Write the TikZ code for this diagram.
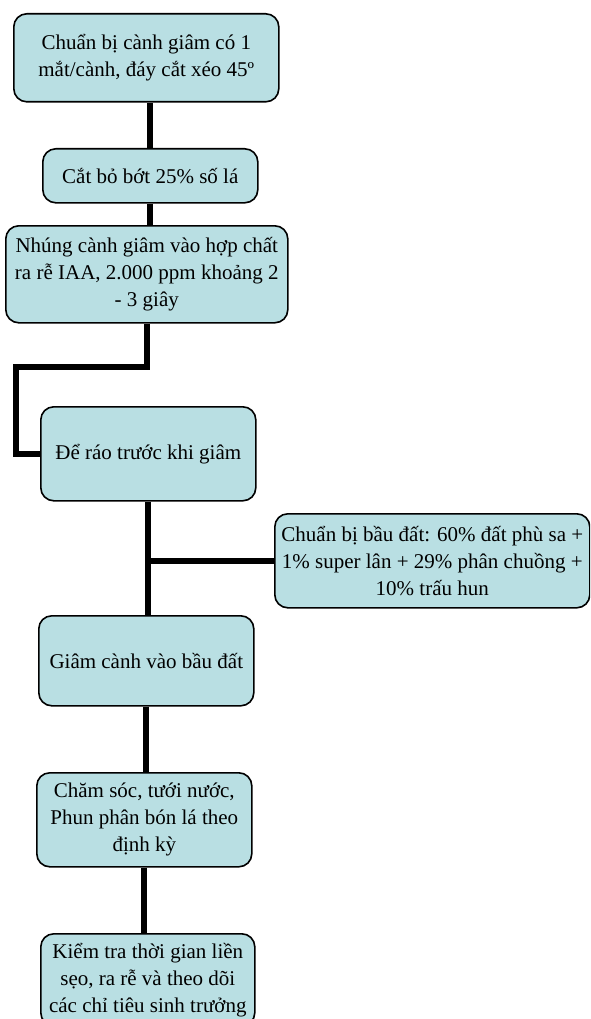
\documentclass[tikz,border=0pt]{standalone}
\usepackage{fontspec}
\setmainfont{Liberation Serif}
\definecolor{boxfill}{RGB}{185,223,227}
\tikzset{
  stepbox/.style={draw=black, line width=1.6pt, fill=boxfill, rounded corners=13pt,
    inner sep=0pt, align=center, anchor=north west,
    font=\fontsize{21}{27}\selectfont},
  link/.style={line width=6pt, draw=black}
}
\begin{document}
\begin{tikzpicture}[x=1pt, y=1pt]
\clip (0,0) rectangle (590,-1019);
\fill[white] (0,0) rectangle (590,-1019);
% connectors drawn first (behind boxes) using named coordinates after nodes
\node[stepbox, minimum width=265pt, minimum height=88pt] (b1) at (13,-13)
  {Chuẩn bị cành giâm có 1\\mắt/cành, đáy cắt xéo 45º};
\node[stepbox, minimum width=215pt, minimum height=54pt] (b2) at (42,-148)
  {Cắt bỏ bớt 25\% số lá};
\node[stepbox, minimum width=282pt, minimum height=97pt] (b3) at (5,-225)
  {Nhúng cành giâm vào hợp chất\\ra rễ IAA, 2.000 ppm khoảng 2\\- 3 giây};
\node[stepbox, minimum width=215pt, minimum height=94pt] (b4) at (40,-406)
  {Để ráo trước khi giâm};
\node[stepbox, minimum width=315pt, minimum height=94pt] (b6) at (274,-513)
  {Chuẩn bị bầu đất: 60\% đất phù sa +\\1\% super lân + 29\% phân chuồng +\\10\% trấu hun};
\node[stepbox, minimum width=215pt, minimum height=90pt] (b5) at (38,-615)
  {Giâm cành vào bầu đất};
\node[stepbox, minimum width=215pt, minimum height=94pt] (b7) at (36,-772)
  {Chăm sóc, tưới nước,\\Phun phân bón lá theo\\định kỳ};
\node[stepbox, minimum width=214pt, minimum height=92pt] (b8) at (40,-933)
  {Kiểm tra thời gian liền\\sẹo, ra rễ và theo dõi\\các chỉ tiêu sinh trưởng};
% connectors
\draw[link] (b2.north) -- (b2.north |- b1.south);
\draw[link] (b2.south) -- (b2.south |- b3.north);
\coordinate (turn) at ([xshift=-24pt]b4.west);
\draw[link] (b3.south) -- ++(0,-43) -| (turn) -- (b4.west);
\draw[link] (b4.south) -- (b4.south |- b5.north);
\draw[link] (b4.south |- b6.west) -- (b6.west);
\draw[link] (b5.south) -- (b5.south |- b7.north);
\draw[link] (b7.south) -- (b7.south |- b8.north);
\end{tikzpicture}
\end{document}
